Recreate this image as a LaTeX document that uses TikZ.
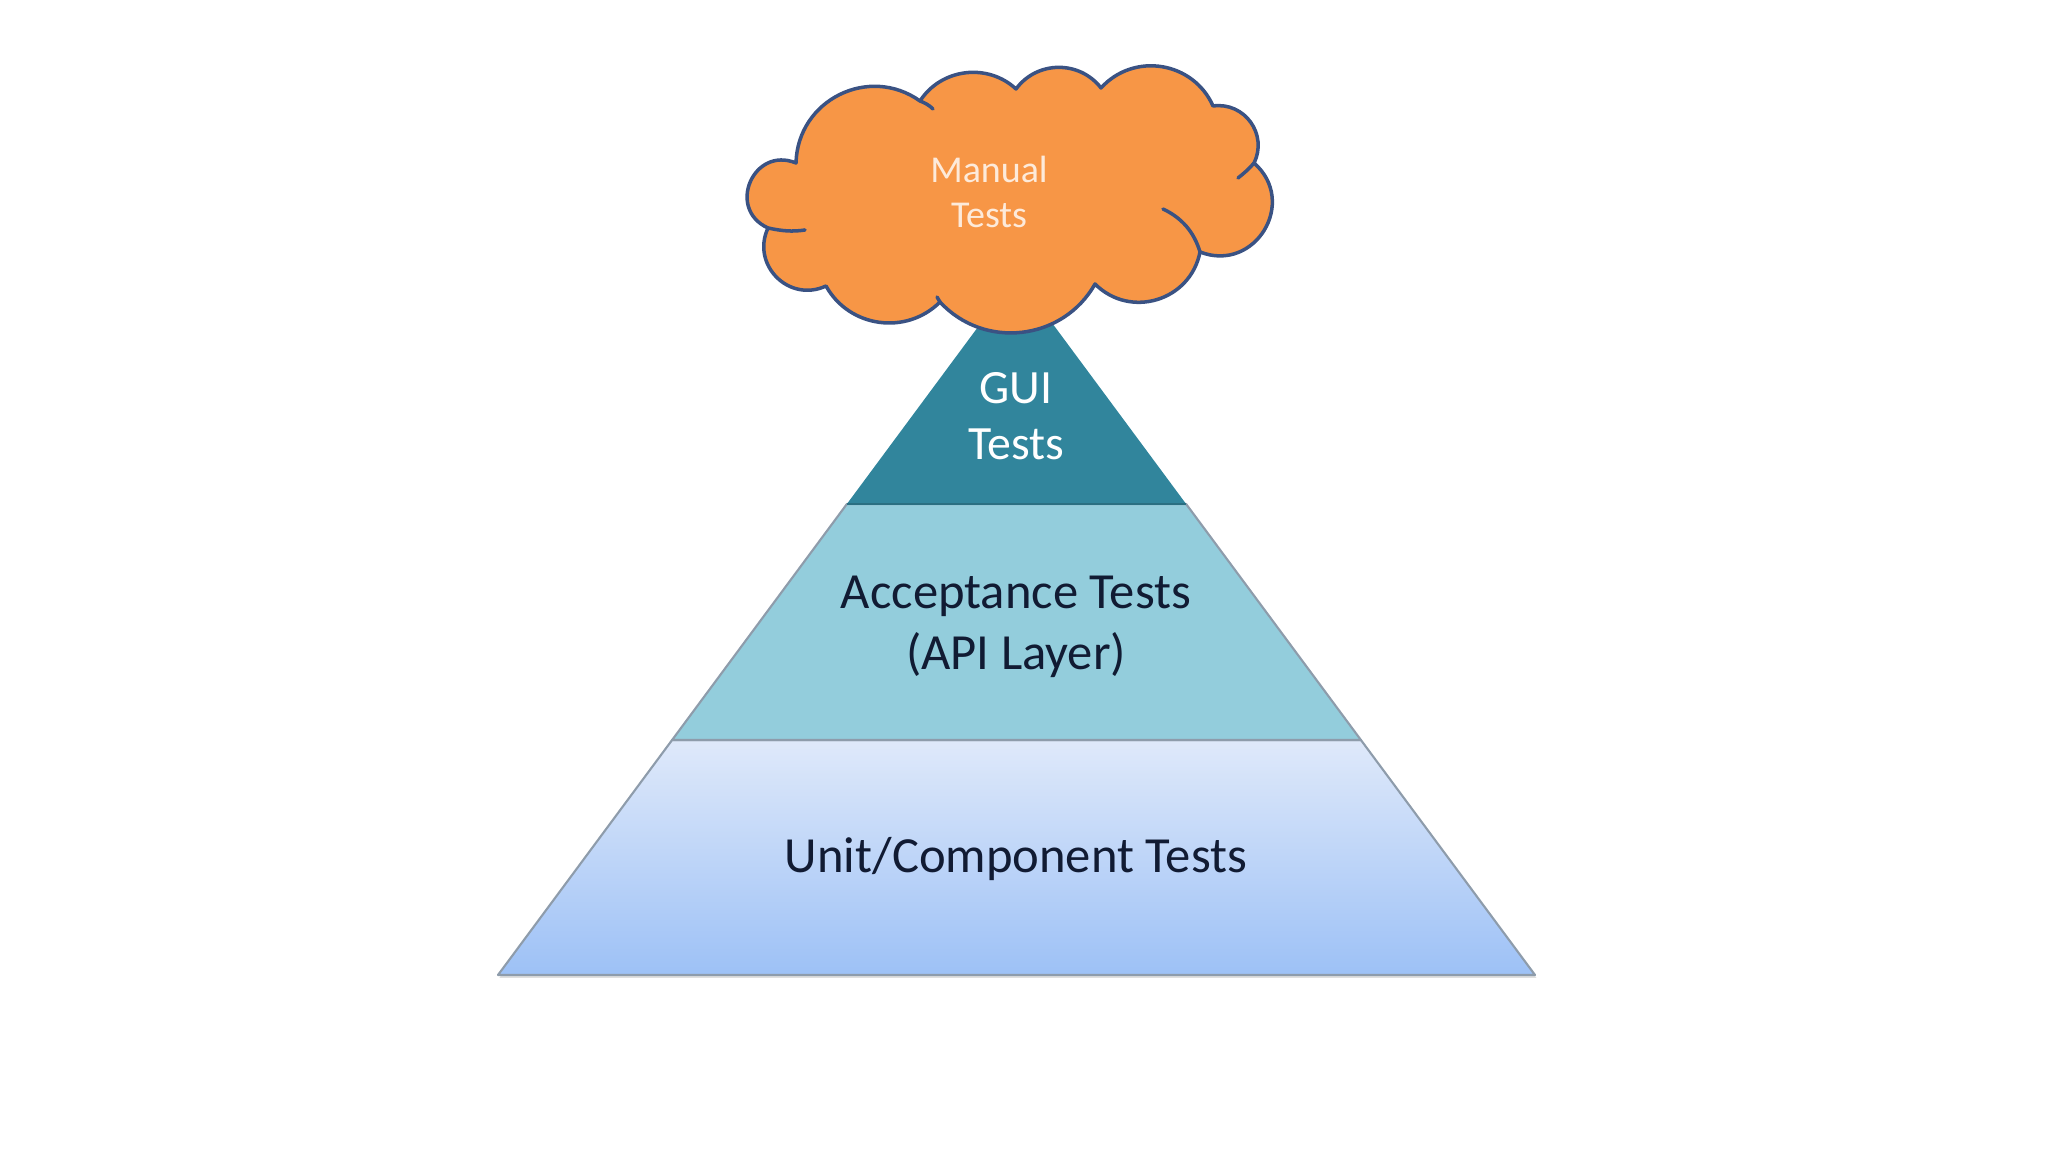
\documentclass[tikz,border=0pt]{standalone}
\usepackage{fontspec}
\setmainfont{Carlito}
\usetikzlibrary{shadows}

\definecolor{cloudfill}{HTML}{F79646}
\definecolor{cloudline}{HTML}{3A5283}
\definecolor{cloudtxt}{HTML}{FDEADA}
\definecolor{guifill}{HTML}{31859C}
\definecolor{guiline}{HTML}{2A6F82}
\definecolor{apifill}{HTML}{93CDDC}
\definecolor{edgegray}{HTML}{8E9CAB}
\definecolor{unittop}{HTML}{DFE9FA}
\definecolor{unitbot}{HTML}{9DC1F6}
\definecolor{layertxt}{HTML}{111B33}

\tikzset{
  layer/.style={draw=edgegray, line width=0.6pt, line join=round},
  puff/.style 2 args={bend left=#1, looseness=#2},
  hook/.style={draw=cloudline, line width=1pt, line cap=round},
  bigtext/.style={font=\fontsize{14.4}{17.4}\selectfont, align=center, text=layertxt, inner sep=0pt},
  cloudtext/.style={font=\fontsize{10.8}{12.8}\selectfont, align=center, text=cloudtxt, inner sep=0pt},
}

\begin{document}
\begin{tikzpicture}[x=0.1mm, y=-0.1mm]
  \useasboundingbox (0,0) rectangle (2048,1152);
  % pyramid layers, apex at (1016.5,275) under the cloud
  \path[layer, top color=unittop, bottom color=unitbot,
        drop shadow={shadow xshift=0.4pt, shadow yshift=-0.8pt, opacity=0.25}]
    (672.1,740) -- (1360.9,740) -- (1535,975) -- (498,975) -- cycle;
  \path[layer, fill=apifill] (846.9,504) -- (1186.1,504) -- (1360.9,740) -- (672.1,740) -- cycle;
  \fill[guifill] (1016.5,275) -- (1186.1,504) -- (846.9,504) -- cycle;
  \draw[guiline, line width=0.8pt] (846.9,504) -- (1186.1,504);

  % cloud on top
  \path[fill=cloudfill, draw=cloudline, line width=1pt, line join=round]
    (796,163) to[puff={62}{1.16}] (920,101)
              to[puff={50}{1.03}] (1016,89)
              to[puff={53}{1.06}] (1101,88)
              to[puff={57}{1.10}] (1213,106)
              to[puff={62}{1.16}] (1254,163)
              to[puff={80}{1.45}] (1200,252)
              to[puff={62}{1.16}] (1095,284)
              to[puff={54}{1.07}] (940,302)
              to[puff={53}{1.06}] (826,286)
              to[puff={70}{1.27}] (768,228)
              to[puff={89}{1.67}] cycle;
  % inner strokes of the cloud
  \path[hook] (768,228) .. controls (782,231) and (792,232) .. (805,230);
  \path[hook] (1200,252) .. controls (1194,232) and (1182,218) .. (1163,209);
  \path[hook] (1254,163) .. controls (1248,170) and (1243,174) .. (1238,178);
  \path[hook] (920,101) .. controls (925,103) and (929,105) .. (933,109);
  \path[hook] (940,302) .. controls (939,300) and (938,299) .. (937,297);

  % labels
  \node[cloudtext] (manual) at (989,192) {Manual\\Tests};
  \node[bigtext, text=white, font=\fontsize{13.6}{15.9}\selectfont] (gui) at (1016,416) {GUI\\Tests};
  \node[bigtext] (api) at (1016,627) {Acceptance Tests\\(API Layer)};
  \node[bigtext] (unit) at (1016,859) {Unit/Component Tests};
\end{tikzpicture}
\end{document}
